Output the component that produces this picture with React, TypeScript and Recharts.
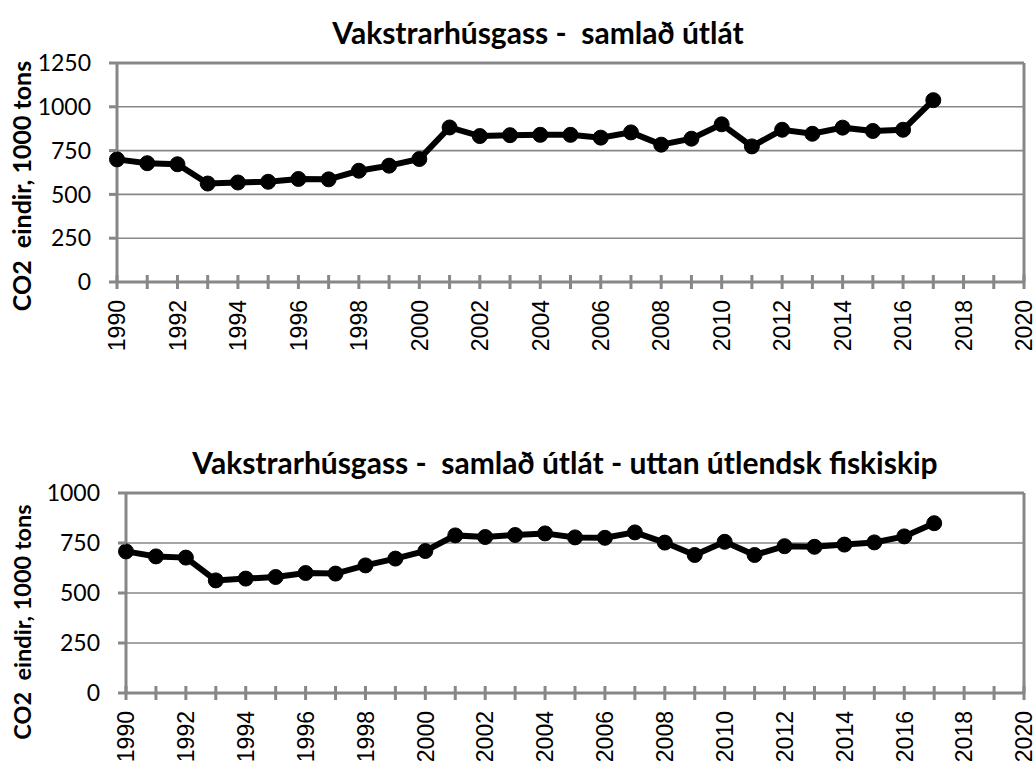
import React from 'react';
import { LineChart, Line, XAxis, YAxis, CartesianGrid, ReferenceLine } from 'recharts';

// Years on the x axis (data runs 1990-2017, axis runs to 2020)
const years = [
  1990, 1991, 1992, 1993, 1994, 1995, 1996, 1997, 1998, 1999,
  2000, 2001, 2002, 2003, 2004, 2005, 2006, 2007, 2008, 2009,
  2010, 2011, 2012, 2013, 2014, 2015, 2016, 2017,
];

// Total greenhouse gas emissions, 1000 tons CO2 eq.
const totalEmissions = [
  700, 678, 672, 562, 568, 572, 588, 586, 635, 664,
  702, 882, 833, 838, 840, 840, 824, 854, 784, 818,
  900, 774, 869, 846, 881, 862, 869, 1038,
];

// Emissions excluding foreign fishing vessels
const excludingForeign = [
  708, 683, 677, 563, 572, 580, 600, 597, 638, 672,
  710, 788, 780, 790, 798, 778, 776, 803, 752, 690,
  756, 690, 734, 731, 742, 753, 783, 849,
];

const xTicks = Array.from({ length: 31 }, (_, i) => 1990 + i);
const topTicks = [0, 250, 500, 750, 1000, 1250];
const bottomTicks = [0, 250, 500, 750, 1000];

const topTitle = 'Vakstrarhúsgass -  samlað útlát';
const bottomTitle = 'Vakstrarhúsgass -  samlað útlát - uttan útlendsk fiskiskip';
const yLabel = 'CO2  eindir, 1000 tons';

const GRAY = '#878787';

const XTick = (props: any) => {
  const { x, y, payload } = props;
  const year = payload.value;
  return (
    <g>
      <line x1={x} x2={x} y1={y - 7} y2={y + 7} stroke={GRAY} strokeWidth={3} />
      {year % 2 === 0 && (
        <text
          x={x}
          y={y + 18}
          dy="0.36em"
          transform={`rotate(-90 ${x} ${y + 18})`}
          textAnchor="end"
          fontFamily="'Liberation Sans', Arial, sans-serif"
          fontSize={23}
          fill="#000"
        >
          {year}
        </text>
      )}
    </g>
  );
};

const YTick = (props: any) => {
  const { x, y, payload } = props;
  return (
    <g>
      <line x1={x - 8} x2={x} y1={y} y2={y} stroke={GRAY} strokeWidth={3} />
      <text
        x={x - 26}
        y={y}
        dy="0.36em"
        textAnchor="end"
        fontFamily="Lato, sans-serif"
        fontSize={23}
        fill="#000"
      >
        {payload.value}
      </text>
    </g>
  );
};

const textStyle: React.CSSProperties = {
  position: 'absolute',
  whiteSpace: 'pre',
  fontFamily: 'Lato, sans-serif',
  fontWeight: 700,
  color: '#000',
  lineHeight: 1,
};

interface PanelProps {
  data: { year: number; value: number }[];
  top: number;
  height: number;
  margin: { top: number; right: number; bottom: number; left: number };
  xHeight: number;
  yMax: number;
  yTicks: number[];
}

const Panel: React.FC<PanelProps> = ({ data, top, height, margin, xHeight, yMax, yTicks }) => (
  <div style={{ position: 'absolute', left: 0, top }}>
    <LineChart width={1035} height={height} data={data} margin={margin}>
      <CartesianGrid vertical={false} stroke={GRAY} strokeWidth={1.6} />
      <XAxis
        dataKey="year"
        type="number"
        domain={[1990, 2020]}
        ticks={xTicks}
        interval={0}
        height={xHeight}
        tickSize={0}
        tickMargin={0}
        tickLine={false}
        tick={<XTick />}
        axisLine={{ stroke: GRAY, strokeWidth: 3 }}
      />
      <YAxis
        type="number"
        domain={[0, yMax]}
        ticks={yTicks}
        interval={0}
        width={60}
        tickSize={0}
        tickMargin={0}
        tickLine={false}
        tick={<YTick />}
        axisLine={{ stroke: GRAY, strokeWidth: 3 }}
      />
      <ReferenceLine y={yMax} stroke={GRAY} strokeWidth={3} />
      <ReferenceLine x={2020} stroke={GRAY} strokeWidth={3} />
      <Line
        dataKey="value"
        stroke="#000"
        strokeWidth={6}
        dot={{ r: 7.5, fill: '#000', stroke: '#000', strokeWidth: 1 }}
        isAnimationActive={false}
      />
    </LineChart>
  </div>
);

export default function App() {
  const topData = years.map((year, i) => ({ year, value: totalEmissions[i] }));
  const bottomData = years.map((year, i) => ({ year, value: excludingForeign[i] }));

  return (
    <div style={{ position: 'absolute', left: 0, top: 0, width: 1035, height: 762, background: '#fff', overflow: 'hidden' }}>
      <Panel
        data={topData}
        top={0}
        height={370}
        margin={{ top: 63, right: 11, bottom: 2, left: 57 }}
        xHeight={86}
        yMax={1250}
        yTicks={topTicks}
      />
      <Panel
        data={bottomData}
        top={400}
        height={362}
        margin={{ top: 93, right: 11, bottom: 2, left: 66 }}
        xHeight={67}
        yMax={1000}
        yTicks={bottomTicks}
      />
      <div style={{ ...textStyle, fontSize: 30, left: 538, top: 32, transform: 'translate(-50%, -50%)' }}>
        {topTitle}
      </div>
      <div style={{ ...textStyle, fontSize: 30, left: 565, top: 462, transform: 'translate(-50%, -50%)' }}>
        {bottomTitle}
      </div>
      <div style={{ ...textStyle, fontSize: 25, left: 21, top: 186, transform: 'translate(-50%, -50%) rotate(-90deg)' }}>
        {yLabel}
      </div>
      <div style={{ ...textStyle, fontSize: 23.5, left: 23, top: 622, transform: 'translate(-50%, -50%) rotate(-90deg)' }}>
        {yLabel}
      </div>
    </div>
  );
}
